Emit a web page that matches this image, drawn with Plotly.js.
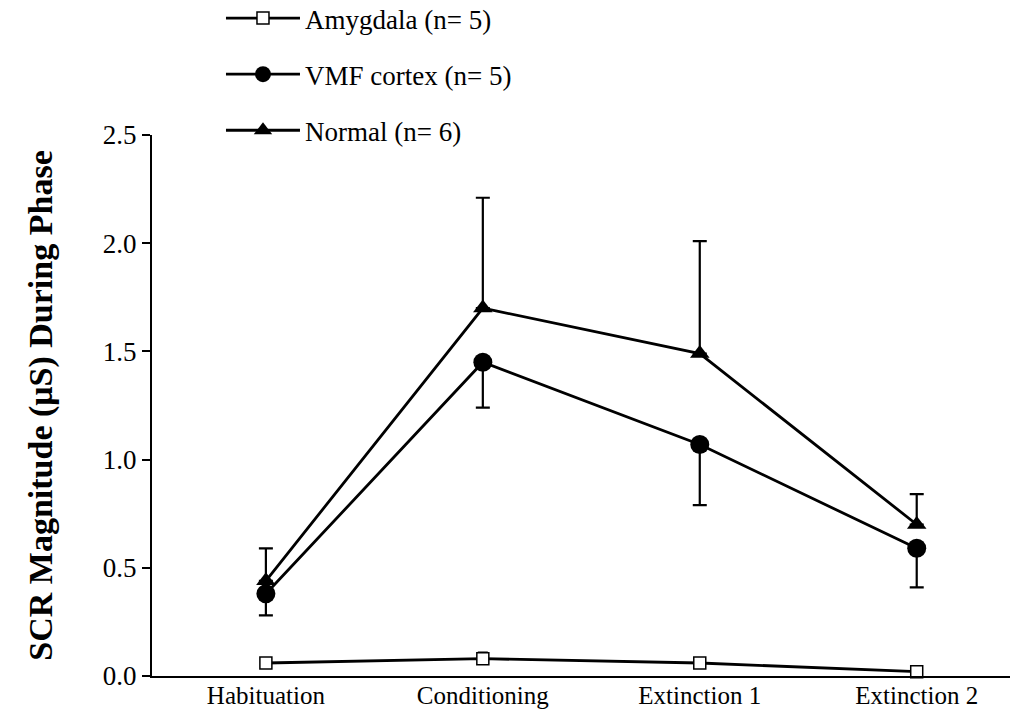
<!DOCTYPE html>
<html>
<head>
<meta charset="utf-8">
<script src="https://cdn.plot.ly/plotly-3.0.1.min.js"></script>
<style>html,body{margin:0;padding:0;background:#fff;}#chart{width:1017px;height:711px;}</style>
</head>
<body>
<div id="chart"></div>
<script>
var phases = ["Habituation", "Conditioning", "Extinction 1", "Extinction 2"];
var amygdala = [0.06, 0.08, 0.06, 0.02];
var amygdalaErrUp = [0.01, 0.03, 0.01, 0.01];
var vmf = [0.38, 1.45, 1.07, 0.59];
var vmfErrDown = [0.10, 0.21, 0.28, 0.18];
var normal = [0.44, 1.70, 1.49, 0.70];
var normalErrUp = [0.15, 0.51, 0.52, 0.14];
var yTicks = [0, 0.5, 1.0, 1.5, 2.0, 2.5];

var font = "'Liberation Serif', 'Times New Roman', serif";
var xIdx = phases.map(function(_, i){ return i; });

var traces = [
  {
    x: xIdx, y: amygdala, name: "Amygdala (n= 5)", legendgroup: "a",
    mode: "lines+markers", type: "scatter", cliponaxis: false,
    line: {color: "#000", width: 2.8},
    marker: {symbol: "square", size: 12, color: "#fff", line: {color: "#000", width: 1.5}},
    error_y: {type: "data", array: amygdalaErrUp, arrayminus: [0,0,0,0], symmetric: false, color: "#000", thickness: 1.5, width: 5}
  },
  {
    x: xIdx, y: vmf, name: "VMF cortex (n= 5)", legendgroup: "b",
    mode: "lines+markers", type: "scatter", cliponaxis: false,
    line: {color: "#000", width: 2.8},
    marker: {symbol: "circle", size: 19, color: "#000"},
    error_y: {type: "data", array: [0,0,0,0], arrayminus: vmfErrDown, symmetric: false, color: "#000", thickness: 2.2, width: 7}
  },
  {
    x: xIdx, y: normal, name: "Normal (n= 6)", legendgroup: "c",
    mode: "lines+markers", type: "scatter", cliponaxis: false,
    line: {color: "#000", width: 2.8},
    marker: {symbol: "triangle-up", size: 17, color: "#000"},
    error_y: {type: "data", array: normalErrUp, arrayminus: [0,0,0,0], symmetric: false, color: "#000", thickness: 2.2, width: 7}
  }
];

var layout = {
  width: 1017, height: 711,
  paper_bgcolor: "#fff", plot_bgcolor: "#fff",
  margin: {l: 152, r: 7, t: 135, b: 35, autoexpand: false},
  font: {family: font, color: "#000", size: 27},
  showlegend: true,
  legend: {
    x: 0.0804, y: 1.2606, xref: "paper", yref: "paper", xanchor: "left", yanchor: "top",
    traceorder: "grouped", tracegroupgap: 18, itemwidth: 74,
    font: {family: font, size: 27, color: "#000"}, bgcolor: "rgba(0,0,0,0)"
  },
  xaxis: {
    range: [-0.525, 3.43],
    tickmode: "array", tickvals: xIdx, ticktext: phases,
    showgrid: false, zeroline: false, showline: true, linecolor: "#000", linewidth: 2,
    ticks: "", ticklabelstandoff: -4,
    tickfont: {family: font, size: 25, color: "#000"}, fixedrange: true
  },
  yaxis: {
    range: [0, 2.5],
    tickmode: "array", tickvals: yTicks, ticktext: yTicks.map(function(v){ return v.toFixed(1); }),
    showgrid: false, zeroline: false, showline: true, linecolor: "#000", linewidth: 2,
    ticks: "outside", ticklen: 8, tickwidth: 2, tickcolor: "#000",
    tickfont: {family: font, size: 27, color: "#000"},
    title: {text: "<b>SCR Magnitude (μS) During Phase</b>", font: {family: font, size: 34, color: "#000"}, standoff: 40},
    fixedrange: true
  }
};

Plotly.newPlot("chart", traces, layout, {displayModeBar: false, staticPlot: true});
</script>
</body>
</html>
